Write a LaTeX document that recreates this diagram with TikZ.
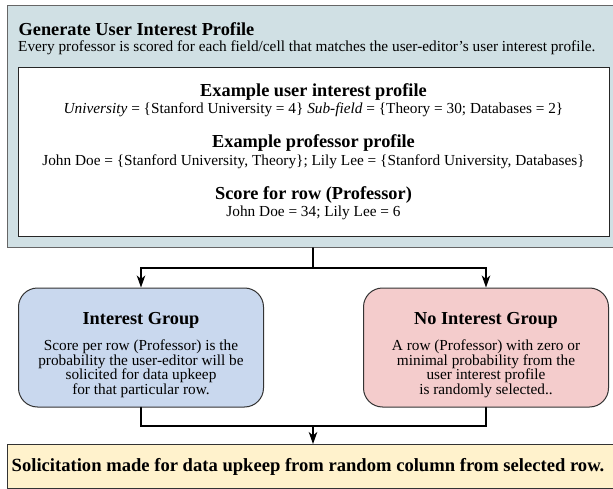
\documentclass[tikz,border=0pt]{standalone}
\usepackage{fontspec}
\setmainfont{Liberation Serif}
\usetikzlibrary{arrows.meta,positioning}

\definecolor{profilefill}{RGB}{208,224,228}
\definecolor{interestfill}{RGB}{201,216,238}
\definecolor{nointerestfill}{RGB}{244,204,204}
\definecolor{solicitfill}{RGB}{255,242,204}

\begin{document}
\begin{tikzpicture}[x=1pt,y=-1pt,line cap=round]
	\tikzstyle{head}=[font=\bfseries\fontsize{18.3}{19}\selectfont,inner sep=0pt];
	\tikzstyle{body}=[font=\fontsize{15.3}{15.5}\selectfont,inner sep=0pt];
	\tikzstyle{group}=[draw=black!80,line width=1pt,rounded corners=19pt,minimum width=245pt,minimum height=119pt];
	\tikzstyle{grouptext}=[align=center,inner sep=0pt,font=\fontsize{15.3}{14.7}\selectfont];
	\tikzstyle{link}=[line width=1.7pt,-{Stealth[length=12pt,width=8.5pt,inset=3.5pt]}];
	\useasboundingbox (0,0) rectangle (613,489);
	\node[draw=black!60,line width=1pt,fill=profilefill,minimum width=609pt,minimum height=242pt,anchor=north west,inner sep=0pt] (profile) at (7,5) {};
	\node[draw=black!85,line width=1.2pt,fill=white,minimum width=591pt,minimum height=169pt,anchor=north west,inner sep=0pt] (example) at (18,67) {};
	\node[head,anchor=west] (title) at (18.5,29) {Generate User Interest Profile};
	\node[body,anchor=west] (subtitle) at (18,48) {Every professor is scored for each field/cell that matches the user-editor’s user interest profile.};
	\node[head] (userhead) at (313.5,92) {Example user interest profile};
	\node[body] (userline) at (313.5,110) {\textit{University} = \{Stanford University = 4\} \textit{Sub-field} = \{Theory = 30; Databases = 2\}};
	\node[head] (profhead) at (313.5,143) {Example professor profile};
	\node[body] (profline) at (313.5,162) {John Doe = \{Stanford University, Theory\}; Lily Lee = \{Stanford University, Databases\}};
	\node[head] (scorehead) at (313.5,195) {Score for row (Professor)};
	\node[body] (scoreline) at (313.5,213) {John Doe = 34; Lily Lee = 6};
	\node[group,fill=interestfill] (interest) at (141,347.5) {};
	\node[group,fill=nointerestfill] (nointerest) at (486,347.5) {};
	\node[grouptext] (interesttext) at ([yshift=-7.5pt]interest.center) {{\bfseries\fontsize{18.3}{19}\selectfont Interest Group}\\[11.5pt]Score per row (Professor) is the\\probability the user-editor will be\\solicited for data upkeep\\for that particular row.};
	\node[grouptext] (nointeresttext) at ([yshift=-7.5pt]nointerest.center) {{\bfseries\fontsize{18.3}{19}\selectfont No Interest Group}\\[11.5pt]A row (Professor) with zero or\\minimal probability from the\\user interest profile\\is randomly selected..};
	\node[draw=black!80,line width=1pt,fill=solicitfill,minimum width=609pt,minimum height=44pt,anchor=north west,inner sep=0pt] (solicit) at (7,444) {};
	\node[head,font=\bfseries\fontsize{18.6}{19}\selectfont] (solicittext) at (308,466.5) {Solicitation made for data upkeep from random column from selected row.};
	\coordinate (split) at (313,268);
	\coordinate (merge) at (313,426);
	\draw[line width=1.7pt] (split |- profile.south) -- (split);
	\draw[link] (split) -| (interest.north);
	\draw[link] (split) -| (nointerest.north);
	\draw[line width=1.7pt] (interest.south) |- (merge) -| (nointerest.south);
	\draw[link] (merge) -- (merge |- solicit.north);
\end{tikzpicture}
\end{document}
